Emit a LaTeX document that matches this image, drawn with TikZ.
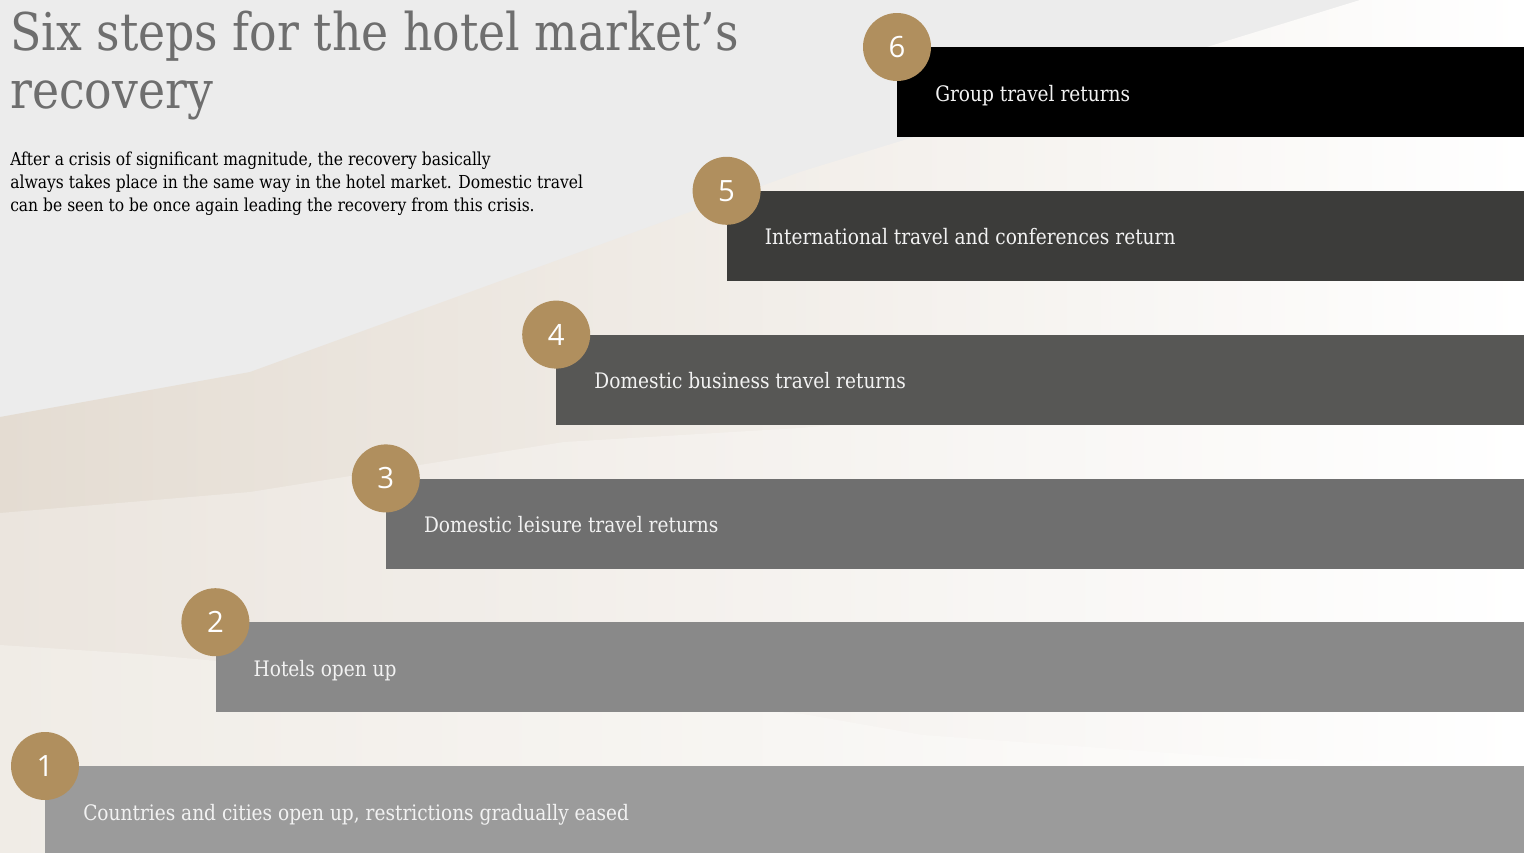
\documentclass[tikz,border=0pt]{standalone}
\usepackage{fontspec}
\setmainfont{DejaVu Serif}[FakeStretch=0.87]
\newfontfamily\titlefont{DejaVu Serif}[FakeStretch=0.88]
\newfontfamily\numfont{Open Sans}
\definecolor{bggray}{HTML}{ECECEC}
\definecolor{beigeA}{HTML}{E4DCD2}
\definecolor{beigeB}{HTML}{EBE5DE}
\definecolor{beigeC}{HTML}{F0ECE6}
\definecolor{titlegray}{HTML}{6E6E6E}
\definecolor{gold}{HTML}{B08F5E}
\definecolor{barA}{HTML}{9B9B9B}
\definecolor{barB}{HTML}{898989}
\definecolor{barC}{HTML}{6F6F6F}
\definecolor{barD}{HTML}{575755}
\definecolor{barE}{HTML}{3C3C3A}
\definecolor{barF}{HTML}{000000}
\tikzset{
  stepbar/.style={fill=#1, draw=none, inner sep=0pt, anchor=north west, minimum height=67.5pt},
  stepnum/.style={circle, fill=gold, draw=none, inner sep=0pt, minimum size=51pt,
    text=white, font=\numfont\fontsize{22}{22}\selectfont},
  steplabel/.style={anchor=base west, inner sep=0pt, text=white!95!black,
    font=\fontsize{16}{16}\selectfont}
}
\begin{document}
\begin{tikzpicture}[x=0.75pt,y=-0.75pt]
    \useasboundingbox (0,0) rectangle (1524,853);
    \clip (0,0) rectangle (1524,853);

    % background bands
    \fill[bggray] (0,0) rectangle (1524,853);
    \shade[left color=beigeA, right color=white] (0,417) -- (250,372) -- (800,172) -- (1360,0)
        -- (1524,0) -- (1524,853) -- (0,853) -- cycle;
    \shade[left color=beigeB, right color=white] (0,513) -- (250,492) -- (564,442) -- (800,428)
        -- (1524,360) -- (1524,853) -- (0,853) -- cycle;
    \shade[left color=beigeC, right color=white] (0,645) -- (140,654) -- (803,714) -- (923,735)
        -- (1240,758) -- (1524,764) -- (1524,853) -- (0,853) -- cycle;

    % heading (base = last line)
    \node[anchor=base west, inner sep=0pt, align=left, text=titlegray,
        font=\titlefont\fontsize{39}{43.5}\selectfont] (title) at (10,108)
        {Six steps for the hotel market’s\\recovery};
    \node[anchor=base west, inner sep=0pt, align=left, text=black,
        font=\fontsize{13.4}{17.25}\selectfont] (intro) at (10,211)
        {After a crisis of significant magnitude, the recovery basically\\
         always takes place in the same way in the hotel market. Domestic travel\\
         can be seen to be once again leading the recovery from this crisis.};

    % steps
    \foreach \i/\col/\txt in {1/barA/{Countries and cities open up, restrictions gradually eased},
                              2/barB/{Hotels open up},
                              3/barC/{Domestic leisure travel returns},
                              4/barD/{Domestic business travel returns},
                              5/barE/{International travel and conferences return},
                              6/barF/{Group travel returns}}{
        \pgfmathsetmacro\left{45+170.4*(\i-1)}
        \pgfmathsetmacro\top{766-143.8*(\i-1)}
        \pgfmathsetmacro\barw{(1530-\left)*0.75}
        \node[stepbar=\col, minimum width=\barw pt] (bar\i) at (\left,\top) {};
        \node[steplabel] (lab\i) at (\left+38,\top+54) {\txt};
        \node[stepnum] (num\i) at (bar\i.north west) {\i};
    }
\end{tikzpicture}
\end{document}
